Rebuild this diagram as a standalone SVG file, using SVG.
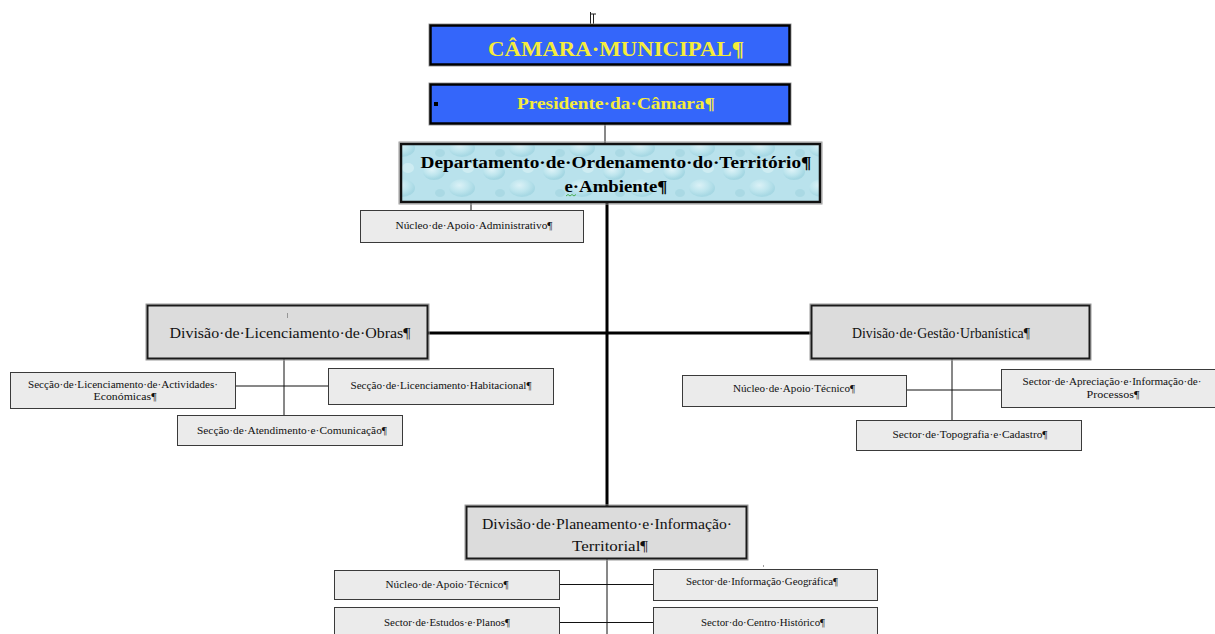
<svg xmlns="http://www.w3.org/2000/svg" width="1215" height="634" viewBox="0 0 1215 634">
  <style>
    .title { font-family: "Liberation Serif", "Times New Roman", serif; font-weight: bold; fill: #f4ec3c; }
    .dept { font-family: "Liberation Serif", "Times New Roman", serif; font-weight: bold; font-size: 17px; fill: #000; }
    .div { font-family: "Liberation Serif", "Times New Roman", serif; font-size: 15px; fill: #111; }
    .sub { font-family: "Liberation Serif", "Times New Roman", serif; font-size: 10px; fill: #111; }
    .blue { fill: #3466fa; stroke: #000; stroke-width: 2.5; }
    .halo { fill: none; stroke: #9a9a9a; stroke-width: 1; }
    .divbox { fill: #dcdcdc; stroke: #1a1a1a; stroke-width: 2; }
    .subbox { fill: #ebebeb; stroke: #3a3a3a; stroke-width: 1; }
    .thin { stroke: #111; stroke-width: 1; fill: none; }
    .thick { stroke: #000; stroke-width: 3; fill: none; }
  </style>
  <defs>
    <radialGradient id="drop" cx="0.4" cy="0.35" r="0.6">
      <stop offset="0" stop-color="#e9f8fb"/>
      <stop offset="0.6" stop-color="#bfe6ee"/>
      <stop offset="1" stop-color="#9fd4e0"/>
    </radialGradient>
    <pattern id="water" width="60" height="40" patternUnits="userSpaceOnUse">
      <rect width="60" height="40" fill="#b9e2ec"/>
      <ellipse cx="14" cy="12" rx="11" ry="8" fill="url(#drop)" opacity="0.8"/>
      <ellipse cx="42" cy="28" rx="13" ry="9" fill="url(#drop)" opacity="0.7"/>
      <ellipse cx="48" cy="8" rx="6" ry="5" fill="#d8f1f6" opacity="0.7"/>
      <ellipse cx="20" cy="33" rx="5" ry="4" fill="#a6d7e2" opacity="0.8"/>
    </pattern>
  </defs>

  <rect width="1215" height="634" fill="#ffffff"/>

  <!-- anchor mark above the title box -->
  <g id="anchor" stroke="#222" stroke-width="1" fill="none">
    <path d="M590.5 12 V24 M593.5 14 V24 M590.5 14 H596"/>
    <rect x="591" y="24" width="2" height="3" fill="#e0a020" stroke="none"/>
  </g>

  <!-- connectors -->
  <g id="connectors">
    <path class="thin" d="M605 124 V143"/>
    <path class="thin" d="M471 203 V210"/>
    <path class="thick" d="M607 203 V506"/>
    <path class="thick" d="M428 333 H811"/>
    <path class="thin" d="M284 359 V415 M235 386 H328"/>
    <path class="thin" d="M952 359 V420 M906 390 H1001"/>
    <path class="thin" d="M607 559 V634 M559 584.5 H653 M559 622.5 H653"/>
  </g>

  <g id="camara">
    <rect x="429" y="24" width="362" height="42" class="halo"/>
    <rect x="430.5" y="25.5" width="359" height="39" class="blue"/>
    <text x="616" y="56" class="title" font-size="22" text-anchor="middle" textLength="256" lengthAdjust="spacingAndGlyphs">CÂMARA·MUNICIPAL¶</text>
  </g>

  <g id="presidente">
    <rect x="429" y="83" width="362" height="42" class="halo"/>
    <rect x="430.5" y="84.5" width="359" height="39" class="blue"/>
    <rect x="434" y="102" width="4" height="4" fill="#000"/>
    <text x="616" y="109" class="title" font-size="17" text-anchor="middle" textLength="198" lengthAdjust="spacingAndGlyphs">Presidente·da·Câmara¶</text>
  </g>

  <g id="departamento">
    <rect x="399" y="142" width="423" height="62" class="halo"/>
    <rect x="401" y="144" width="419" height="58" fill="url(#water)" stroke="#111" stroke-width="2.5"/>
    <text x="616" y="168" class="dept" text-anchor="middle" textLength="391" lengthAdjust="spacingAndGlyphs">Departamento·de·Ordenamento·do·Território¶</text>
    <text x="616" y="192" class="dept" text-anchor="middle" textLength="103" lengthAdjust="spacingAndGlyphs">e·Ambiente¶</text>
    <path d="M566 196 l2 -1.5 l2 1.5 l2 -1.5 l2 1.5 l2 -1.5" stroke="#2aa02a" stroke-width="0.8" fill="none"/>
  </g>

  <g id="nucleo-admin">
    <rect x="360.5" y="210.5" width="223" height="32" class="subbox"/>
    <text x="474" y="229" class="sub" text-anchor="middle" textLength="157" lengthAdjust="spacingAndGlyphs">Núcleo·de·Apoio·Administrativo¶</text>
  </g>

  <g id="div-licenciamento">
    <rect x="146" y="304" width="283" height="56" class="halo"/>
    <rect x="147.5" y="305.5" width="280" height="53" class="divbox"/>
    <path d="M287.5 313 v5" stroke="#777" stroke-width="0.7"/>
    <text x="290" y="338" class="div" text-anchor="middle" textLength="241" lengthAdjust="spacingAndGlyphs">Divisão·de·Licenciamento·de·Obras¶</text>
  </g>

  <g id="div-gestao">
    <rect x="810" y="304" width="281" height="56" class="halo"/>
    <rect x="811.5" y="305.5" width="278" height="53" class="divbox"/>
    <text x="941" y="338" class="div" text-anchor="middle" textLength="178" lengthAdjust="spacingAndGlyphs">Divisão·de·Gestão·Urbanística¶</text>
  </g>

  <g id="div-planeamento">
    <rect x="465" y="505" width="283" height="55" class="halo"/>
    <rect x="466.5" y="506.5" width="280" height="52" class="divbox"/>
    <text x="607" y="529" class="div" text-anchor="middle" textLength="250" lengthAdjust="spacingAndGlyphs">Divisão·de·Planeamento·e·Informação·</text>
    <text x="610" y="551" class="div" text-anchor="middle" textLength="76" lengthAdjust="spacingAndGlyphs">Territorial¶</text>
  </g>

  <g id="seccao-actividades">
    <rect x="10.5" y="372.5" width="225" height="36" class="subbox"/>
    <text x="123" y="388" class="sub" text-anchor="middle" textLength="190" lengthAdjust="spacingAndGlyphs">Secção·de·Licenciamento·de·Actividades·</text>
    <text x="125" y="400" class="sub" text-anchor="middle" textLength="63" lengthAdjust="spacingAndGlyphs">Económicas¶</text>
  </g>

  <g id="seccao-habitacional">
    <rect x="328.5" y="368.5" width="225" height="36" class="subbox"/>
    <text x="441" y="389" class="sub" text-anchor="middle" textLength="181" lengthAdjust="spacingAndGlyphs">Secção·de·Licenciamento·Habitacional¶</text>
  </g>

  <g id="seccao-atendimento">
    <rect x="177.5" y="415.5" width="225" height="30" class="subbox"/>
    <text x="292" y="434" class="sub" text-anchor="middle" textLength="190" lengthAdjust="spacingAndGlyphs">Secção·de·Atendimento·e·Comunicação¶</text>
  </g>

  <g id="nucleo-tecnico-gestao">
    <rect x="682.5" y="375.5" width="224" height="31" class="subbox"/>
    <text x="794" y="392" class="sub" text-anchor="middle" textLength="122" lengthAdjust="spacingAndGlyphs">Núcleo·de·Apoio·Técnico¶</text>
  </g>

  <g id="sector-apreciacao">
    <rect x="1001.5" y="369.5" width="214" height="38" class="subbox"/>
    <text x="1112" y="385" class="sub" text-anchor="middle" textLength="179" lengthAdjust="spacingAndGlyphs">Sector·de·Apreciação·e·Informação·de·</text>
    <text x="1113" y="398" class="sub" text-anchor="middle" textLength="53" lengthAdjust="spacingAndGlyphs">Processos¶</text>
  </g>

  <g id="sector-topografia">
    <rect x="856.5" y="420.5" width="225" height="30" class="subbox"/>
    <text x="970" y="438" class="sub" text-anchor="middle" textLength="155" lengthAdjust="spacingAndGlyphs">Sector·de·Topografia·e·Cadastro¶</text>
  </g>

  <g id="nucleo-tecnico-planeamento">
    <rect x="334.5" y="570.5" width="225" height="29" class="subbox"/>
    <text x="447" y="588" class="sub" text-anchor="middle" textLength="123" lengthAdjust="spacingAndGlyphs">Núcleo·de·Apoio·Técnico¶</text>
  </g>

  <g id="sector-geografica">
    <rect x="653.5" y="569.5" width="224" height="31" class="subbox"/>
    <path d="M763.5 565 v2" stroke="#777" stroke-width="0.7"/>
    <text x="762" y="585" class="sub" text-anchor="middle" textLength="152" lengthAdjust="spacingAndGlyphs">Sector·de·Informação·Geográfica¶</text>
  </g>

  <g id="sector-estudos">
    <rect x="334.5" y="607.5" width="225" height="32" class="subbox"/>
    <text x="447" y="626" class="sub" text-anchor="middle" textLength="126" lengthAdjust="spacingAndGlyphs">Sector·de·Estudos·e·Planos¶</text>
  </g>

  <g id="sector-centro">
    <rect x="653.5" y="607.5" width="224" height="32" class="subbox"/>
    <text x="763" y="626" class="sub" text-anchor="middle" textLength="124" lengthAdjust="spacingAndGlyphs">Sector·do·Centro·Histórico¶</text>
  </g>
</svg>
